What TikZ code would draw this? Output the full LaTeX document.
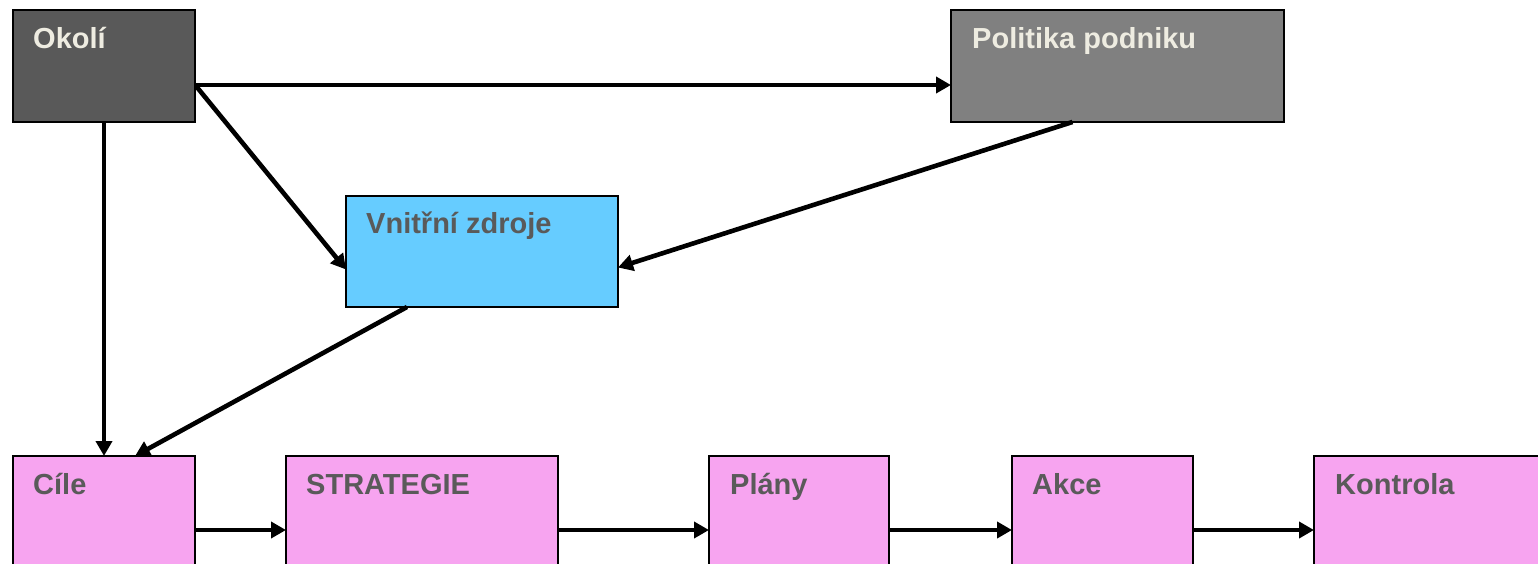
\documentclass[tikz,border=0pt]{standalone}
\usepackage{fontspec}
\setmainfont{Liberation Sans}
\usetikzlibrary{arrows.meta,calc}
\definecolor{darkbox}{HTML}{595959}
\definecolor{midbox}{HTML}{808080}
\definecolor{bluebox}{HTML}{66CCFF}
\definecolor{pinkbox}{HTML}{F7A4F0}
\definecolor{lighttext}{HTML}{EEECE1}
\definecolor{darktext}{HTML}{5A5A5A}
\tikzset{
  box/.style={draw=black, line width=1.5pt, inner sep=0pt, outer sep=0pt,
    anchor=north west, minimum height=112pt},
  caption/.style={anchor=base west, inner sep=0pt,
    font=\fontsize{29}{34}\selectfont\bfseries},
  link/.style={line width=4.6pt, -{Triangle[length=15pt,width=16pt]}},
}
\begin{document}
\begin{tikzpicture}[x=1pt,y=-1pt]
\useasboundingbox (0,0) rectangle (1538,563);

% upper row
\node[box, fill=darkbox, minimum width=182pt] (okoli) at (13,10) {};
\node[box, fill=midbox, minimum width=333pt] (politika) at (951,10) {};
\node[box, fill=bluebox, minimum width=272pt, minimum height=111pt] (zdroje) at (346,196) {};

% process chain
\node[box, fill=pinkbox, minimum width=182pt, minimum height=148pt] (cile) at (13,456) {};
\node[box, fill=pinkbox, minimum width=272pt, minimum height=148pt] (strategie) at (286,456) {};
\node[box, fill=pinkbox, minimum width=180pt, minimum height=148pt] (plany) at (709,456) {};
\node[box, fill=pinkbox, minimum width=181pt, minimum height=148pt] (akce) at (1012,456) {};
\node[box, fill=pinkbox, minimum width=250pt, minimum height=148pt] (kontrola) at (1314,456) {};

% captions
\node[caption, text=lighttext] (okoli-t) at ([xshift=20pt,yshift=-38pt]okoli.north west) {Okolí};
\node[caption, text=lighttext] (politika-t) at ([xshift=21pt,yshift=-38pt]politika.north west) {Politika podniku};
\node[caption, text=darktext] (zdroje-t) at ([xshift=20pt,yshift=-37pt]zdroje.north west) {Vnitřní zdroje};
\node[caption, text=darktext] (cile-t) at ([xshift=20pt,yshift=-38pt]cile.north west) {Cíle};
\node[caption, text=darktext] (strategie-t) at ([xshift=20pt,yshift=-38pt]strategie.north west) {STRATEGIE};
\node[caption, text=darktext] (plany-t) at ([xshift=21pt,yshift=-38pt]plany.north west) {Plány};
\node[caption, text=darktext] (akce-t) at ([xshift=20pt,yshift=-38pt]akce.north west) {Akce};
\node[caption, text=darktext] (kontrola-t) at ([xshift=21pt,yshift=-38pt]kontrola.north west) {Kontrola};

% influences
\draw[link] ([yshift=-19pt]okoli.east) -- ([yshift=-19pt]politika.west);
\draw[link] ([xshift=1pt,yshift=-20pt]okoli.east) -- ([yshift=-18pt]zdroje.west);
\draw[link] (okoli.south) -- (cile.north);
\draw[link] ([xshift=-45pt]politika.south) -- ([yshift=-16pt]zdroje.east);
\draw[link] ([xshift=-75pt]zdroje.south) -- ([xshift=31pt]cile.north);

% chain
\draw[link] (cile.east) -- (strategie.west);
\draw[link] (strategie.east) -- (plany.west);
\draw[link] (plany.east) -- (akce.west);
\draw[link] (akce.east) -- (kontrola.west);
\end{tikzpicture}
\end{document}
